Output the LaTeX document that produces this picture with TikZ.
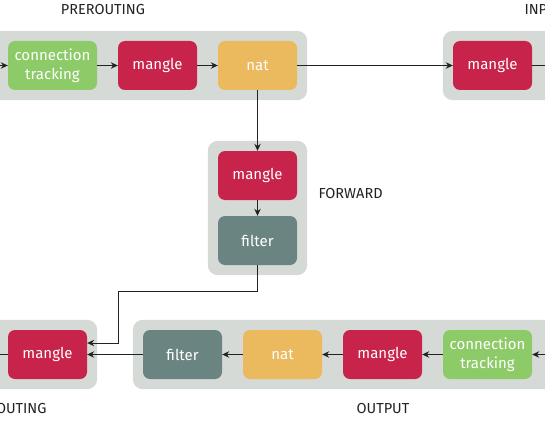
\documentclass[tikz,border=0pt]{standalone}
\usepackage{fontspec}
\setmainfont{Fira Sans}
\usepackage{xcolor}
\usepackage{tikz}
\usetikzlibrary{arrows.meta,fit,backgrounds}
\definecolor{Track}{HTML}{8DCB68}
\definecolor{Mangle}{HTML}{C8234A}
\definecolor{Nat}{HTML}{EBBA5E}
\definecolor{Filter}{HTML}{6A8581}
\definecolor{Chain}{HTML}{D6DAD7}
\definecolor{Ink}{HTML}{222222}

\begin{document}
\begin{tikzpicture}[x=1pt,y=-1pt,
  tbl/.style={rounded corners=7pt,minimum width=79pt,minimum height=49pt,text=white,align=center,
    font=\fontsize{15}{19}\selectfont,inner sep=0pt},
  track/.style={tbl,fill=Track,minimum width=89pt},
  mangle/.style={tbl,fill=Mangle},
  nat/.style={tbl,fill=Nat},
  filter/.style={tbl,fill=Filter},
  chain/.style={rounded corners=10pt,fill=Chain,inner sep=10pt},
  title/.style={text=Ink,font=\fontsize{14.5}{16}\selectfont},
  conn/.style={-{Stealth[length=7pt,width=6.5pt]},color=Ink,line width=1pt}
]
\useasboundingbox (0,0) rectangle (545,422);
\clip (0,0) rectangle (545,422);
% prerouting
\node[track] (preTrack) at (52.5,65.5) {connection\\tracking};
\node[mangle] (preMangle) at (157.5,65.5) {mangle};
\node[nat] (preNat) at (257.5,65.5) {nat};
% input
\node[mangle] (inMangle) at (492.5,65.5) {mangle};
% forward
\node[mangle] (fwdMangle) at (257.5,175.5) {mangle};
\node[filter] (fwdFilter) at (257.5,240.5) {filter};
% postrouting
\node[mangle] (postMangle) at (47.5,354.5) {mangle};
% output
\node[filter] (outFilter) at (182.5,354.5) {filter};
\node[nat] (outNat) at (282.5,354.5) {nat};
\node[mangle] (outMangle) at (382.5,354.5) {mangle};
\node[track] (outTrack) at (487.5,354.5) {connection\\tracking};
% free ends beyond the frame
\coordinate (preIn) at (-30,65.5);
\coordinate (inOut) at (580,65.5);
\coordinate (postOut) at (-40,354.5);
\coordinate (outIn) at (580,354.5);
\coordinate (bend) at (118,291);
% chain boxes
\begin{scope}[on background layer]
\node[chain,fit=(preTrack)(preMangle)(preNat)(preIn)] (pre) {};
\node[chain,fit=(inMangle)(inOut)] (in) {};
\node[chain,fit=(fwdMangle)(fwdFilter)] (fwd) {};
\node[chain,fit=(postMangle)(postOut)] (post) {};
\node[chain,fit=(outFilter)(outTrack)(outIn)] (out) {};
\end{scope}
\node[title] (preLabel) at (103,10) {PREROUTING};
\node[title,anchor=west] (inLabel) at (521,10) {INPUT};
\node[title,anchor=west] (fwdLabel) at (315,194) {FORWARD};
\node[title,anchor=east] (postLabel) at (50,408) {POSTROUTING};
\node[title] (outLabel) at (383,408) {OUTPUT};
% connectors
\draw[conn] (preIn) -- (preTrack);
\draw[conn] (preTrack) -- (preMangle);
\draw[conn] (preMangle) -- (preNat);
\draw[conn] (preNat) -- (inMangle);
\draw[conn] (inMangle) -- (inOut);
\draw[conn] (preNat) -- (fwdMangle);
\draw[conn] (fwdMangle) -- (fwdFilter);
\draw[conn] (fwdFilter.south) |- (bend) |- ([yshift=11.5pt]postMangle.east);
\draw[conn] (outIn) -- (outTrack);
\draw[conn] (outTrack) -- (outMangle);
\draw[conn] (outMangle) -- (outNat);
\draw[conn] (outNat) -- (outFilter);
\draw[conn] (outFilter) -- (postMangle);
\draw[conn] (postMangle) -- (postOut);
\end{tikzpicture}
\end{document}
